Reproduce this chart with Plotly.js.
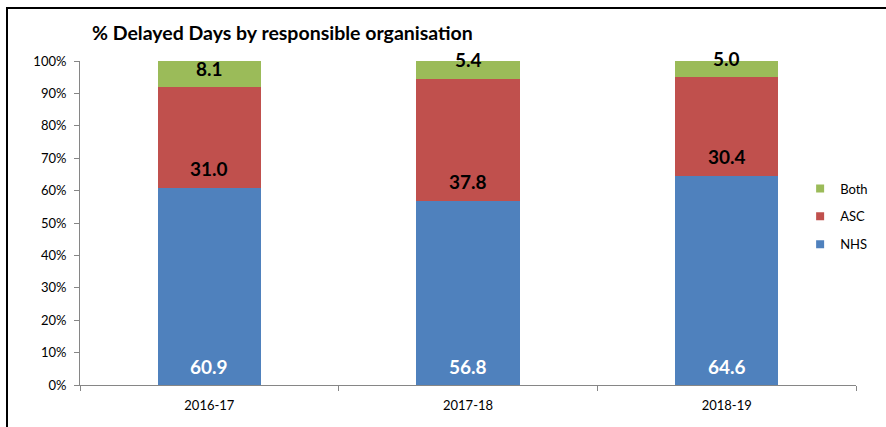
<!DOCTYPE html>
<html>
<head>
<meta charset="utf-8">
<script src="https://cdn.plot.ly/plotly-3.0.1.min.js"></script>
<style>
  html, body { margin: 0; padding: 0; background: #fff; }
  #wrap { position: relative; width: 886px; height: 427px; overflow: hidden; }
  #chart { position: absolute; left: 0; top: 0; width: 886px; height: 427px; }
  #frame { position: absolute; left: 6px; top: 7px; width: 900px; height: 500px;
           border-left: 2px solid #000; border-top: 2px solid #000; pointer-events: none; }
</style>
</head>
<body>
<div id="wrap">
  <div id="chart"></div>
  <div id="frame"></div>
</div>
<script>
const years = ['2016-17', '2017-18', '2018-19'];
const nhs  = [60.9, 56.8, 64.6];
const asc  = [31.0, 37.8, 30.4];
const both = [8.1, 5.4, 5.0];
const seriesNames  = ['NHS', 'ASC', 'Both'];
const seriesColors = ['#4F81BD', '#C0504D', '#9BBB59'];
const labelColors  = ['#FFFFFF', '#000000', '#000000'];

const FONT = 'Lato, "Open Sans", "DejaVu Sans", sans-serif';
const series = [nhs, asc, both];

const traces = series.map((vals, i) => ({
  type: 'bar',
  name: seriesNames[i],
  x: years,
  y: vals,
  showlegend: false,
  marker: { color: seriesColors[i], line: { width: 0 } },
  hoverinfo: 'skip'
}));
// legend entries with small square swatches
series.forEach((vals, i) => {
  traces.push({
    type: 'scatter', mode: 'markers',
    name: seriesNames[i],
    x: [null], y: [null],
    legendgroup: seriesNames[i],
    legendrank: series.length - i,
    marker: { symbol: 'square', size: 8, color: seriesColors[i] },
    hoverinfo: 'skip'
  });
});

// data labels placed at base of each segment
const annotations = [];
const base = years.map(() => 0);
series.forEach((vals, i) => {
  vals.forEach((v, j) => {
    annotations.push({
      x: years[j], y: base[j], xref: 'x', yref: 'y',
      text: '<b>' + v.toFixed(1) + '</b>', showarrow: false,
      yanchor: 'middle', yshift: 19,
      font: { family: FONT, size: 19, color: labelColors[i] }
    });
    base[j] += v;
  });
});

const layout = {
  width: 886, height: 427,
  margin: { l: 80, r: 30, t: 61, b: 42, pad: 0 },
  paper_bgcolor: '#fff', plot_bgcolor: '#fff',
  barmode: 'stack',
  bargap: 0.6,
  font: { family: FONT, size: 13, color: '#000' },
  title: {
    text: '<b>% Delayed Days by responsible organisation</b>',
    xref: 'container', yref: 'container',
    x: 92/886, xanchor: 'left', y: 1 - 33/427, yanchor: 'middle',
    font: { family: FONT, size: 19.5, color: '#000' }
  },
  showlegend: true,
  legend: {
    traceorder: 'grouped', tracegroupgap: 8,
    x: 0.928, xanchor: 'left', y: 0.52, yanchor: 'middle',
    font: { family: FONT, size: 13, color: '#000' },
    bgcolor: 'rgba(0,0,0,0)', itemclick: false
  },
  xaxis: {
    type: 'category', showgrid: false, zeroline: false,
    showline: true, linecolor: '#868686', linewidth: 1,
    ticks: 'outside', tickson: 'boundaries', ticklen: 5, tickcolor: '#868686',
    ticklabelstandoff: 8,
    tickfont: { family: FONT, size: 13, color: '#000' }
  },
  yaxis: {
    range: [0, 100], dtick: 10, ticksuffix: '%',
    showgrid: false, zeroline: false,
    showline: true, linecolor: '#868686', linewidth: 1,
    ticks: 'outside', ticklen: 5, tickcolor: '#868686',
    ticklabelstandoff: 5,
    tickfont: { family: FONT, size: 13, color: '#000' }
  },
  annotations: annotations
};

Plotly.newPlot('chart', traces, layout, { displayModeBar: false, staticPlot: true });
</script>
</body>
</html>
